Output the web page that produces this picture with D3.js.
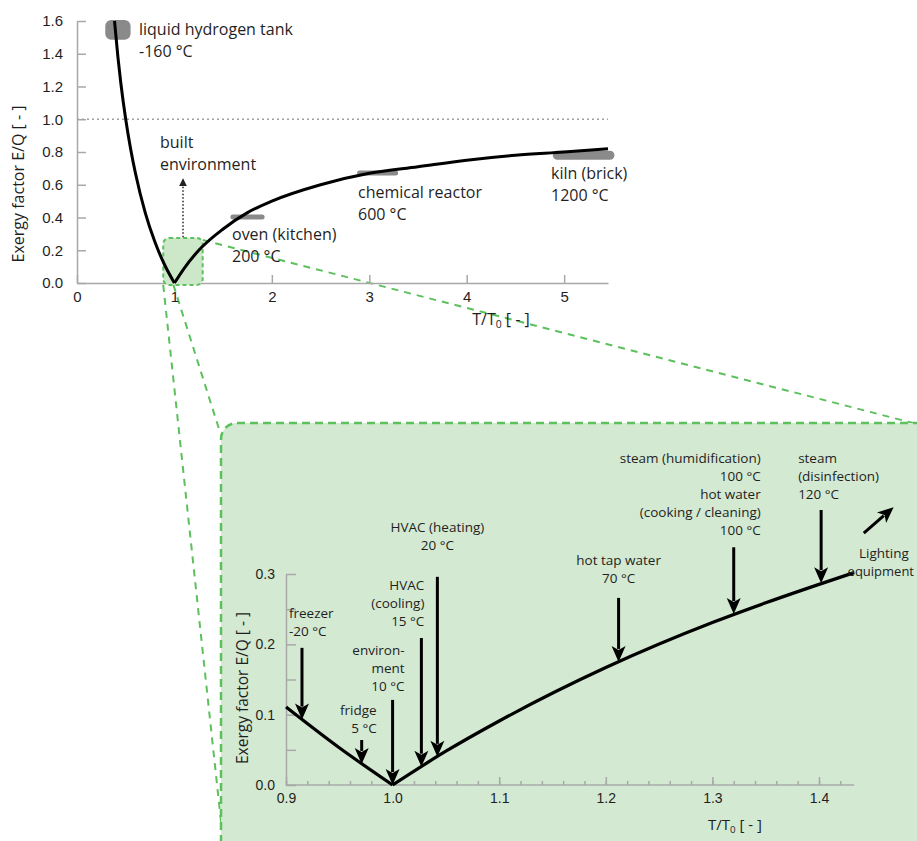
<!DOCTYPE html>
<html>
<head>
<meta charset="utf-8">
<script src="https://cdn.jsdelivr.net/npm/d3@7"></script>
<style>
  body { margin: 0; background: #fff; }
  svg { display: block; font-family: "Open Sans", sans-serif; }
  .lbl { fill: #1f1f1f; }
  .axis path, .axis line { stroke: #a8a8a8; stroke-width: 1.5; }
  .axis text { fill: #1f1f1f; }
</style>
</head>
<body>
<svg width="917" height="841"></svg>
<script>
// main curve (T/T0, E/Q)
const leftBranch = [[0.385, 1.6], [0.42, 1.38], [0.45, 1.22], [0.5, 1.0], [0.55, 0.82], [0.6, 0.67], [0.7, 0.43], [0.8, 0.25], [0.9, 0.11], [1.0, 0.0]];
const rightBranch = [[1.0, 0.0], [1.1, 0.09], [1.25, 0.2], [1.5, 0.33], [1.75, 0.43], [2, 0.5], [2.5, 0.6], [3, 0.67], [3.5, 0.71], [4, 0.75], [4.5, 0.78], [5, 0.8], [5.45, 0.82]];
const topXTicks = [0, 1, 2, 3, 4, 5];
const topYTicks = [0, 0.2, 0.4, 0.6, 0.8, 1.0, 1.2, 1.4, 1.6];

// grey application markers: [from T/T0, to T/T0], E/Q
const appNames = [["liquid hydrogen tank", "-160 °C"], ["oven (kitchen)", "200 °C"], ["chemical reactor", "600 °C"], ["kiln (brick)", "1200 °C"]];
const appRange = [[0.29, 0.55], [1.6, 1.9], [2.9, 3.27], [4.93, 5.47]];
const appValue = [1.54, 0.403, 0.672, 0.78];

// zoomed region
const insetLeft = [[0.9, 0.111], [0.95, 0.053], [1.0, 0.0]];
const insetRight = [[1.0, 0.0], [1.05, 0.048], [1.1, 0.091], [1.2, 0.167], [1.3, 0.231], [1.35, 0.259], [1.433, 0.302]];
const insetXTicks = [0.9, 1.0, 1.1, 1.2, 1.3, 1.4];
const insetYTicks = [0, 0.1, 0.2, 0.3];

const useNames = [
  ["freezer", "-20 °C"],
  ["fridge", "5 °C"],
  ["environ-", "ment", "10 °C"],
  ["HVAC", "(cooling)", "15 °C"],
  ["HVAC (heating)", "20 °C"],
  ["hot tap water", "70 °C"],
  ["steam (humidification)", "100 °C", "hot water", "(cooking / cleaning)", "100 °C"],
  ["steam", "(disinfection)", "120 °C"]
];
const useX = [0.915, 0.971, 1.0, 1.027, 1.042, 1.212, 1.32, 1.402];
const useTop = [0.195, 0.064, 0.121, 0.209, 0.296, 0.266, 0.338, 0.391];
const useEnd = [0.093, 0.03, 0.0, 0.026, 0.04, 0.175, 0.243, 0.287];

const svg = d3.select("svg");

// ---------- top chart ----------
const x = d3.scaleLinear().domain([0, 5.45]).range([77, 608]);
const y = d3.scaleLinear().domain([0, 1.6]).range([283, 21]);

const green = "#5cc05c";

// zoom box on the top chart
const box = { x0: 0.885, x1: 1.29, y0: -0.012, y1: 0.275 };
const bx0 = x(box.x0), bx1 = x(box.x1), by0 = y(box.y1), by1 = y(box.y0);

// inset frame
const inset = { left: 221, top: 423, bottom: 840 };

// projection lines
const proj = [
  [[bx0, by1], [inset.left + 2, inset.bottom]],
  [[x(0.99), by1], [inset.left - 2, inset.top + 6]],
  [[bx1, by0 + 2], [917, inset.top + 1]]
];
svg.selectAll(".proj").data(proj).join("line")
  .attr("class", "proj")
  .attr("x1", d => d[0][0]).attr("y1", d => d[0][1])
  .attr("x2", d => d[1][0]).attr("y2", d => d[1][1])
  .attr("stroke", green).attr("stroke-width", 2)
  .attr("stroke-dasharray", "7,6");

const topAxisY = svg.append("g").attr("class", "axis")
  .attr("transform", `translate(${x(0)},0)`)
  .call(d3.axisLeft(y).tickValues(topYTicks).tickFormat(d3.format(".1f")).tickSizeInner(-9).tickSizeOuter(0).tickPadding(14));
topAxisY.selectAll("text").style("font-size", "15px");

const topAxisX = svg.append("g").attr("class", "axis")
  .attr("transform", `translate(0,${y(0)})`)
  .call(d3.axisBottom(x).tickValues(topXTicks).tickFormat(d3.format("d")).tickSizeInner(-8).tickSizeOuter(0).tickPadding(8));
topAxisX.selectAll("text").style("font-size", "15px");

// E/Q = 1 reference
svg.append("line")
  .attr("x1", x(0)).attr("x2", x(5.45))
  .attr("y1", y(1)).attr("y2", y(1))
  .attr("stroke", "#a0a0a0").attr("stroke-width", 1.4)
  .attr("stroke-dasharray", "2,3");

// zoom box
svg.append("rect")
  .attr("x", bx0).attr("y", by0)
  .attr("width", bx1 - bx0).attr("height", by1 - by0)
  .attr("rx", 6)
  .attr("fill", "#cde8c9")
  .attr("stroke", green).attr("stroke-width", 2)
  .attr("stroke-dasharray", "4,3");

// grey markers
svg.append("rect")
  .attr("x", x(appRange[0][0])).attr("y", y(1.6) - 1)
  .attr("width", x(appRange[0][1]) - x(appRange[0][0]))
  .attr("height", y(appValue[0]) - y(1.6) + 10)
  .attr("rx", 6).attr("fill", "#8a8a8a");
const markW = [0, 5, 5, 9];
svg.selectAll(".mark").data(appRange.slice(1)).join("line")
  .attr("class", "mark")
  .attr("x1", d => x(d[0])).attr("x2", d => x(d[1]))
  .attr("y1", (d, i) => y(appValue[i + 1])).attr("y2", (d, i) => y(appValue[i + 1]))
  .attr("stroke", "#8a8a8a").attr("stroke-linecap", "round")
  .attr("stroke-width", (d, i) => markW[i + 1]);

const line = d3.line().x(d => x(d[0])).y(d => y(d[1])).curve(d3.curveMonotoneX);
svg.selectAll(".curve").data([leftBranch, rightBranch]).join("path")
  .attr("class", "curve")
  .attr("d", line)
  .attr("fill", "none").attr("stroke", "#000").attr("stroke-width", 3);

// built environment arrow
svg.append("defs").append("marker")
  .attr("id", "smallHead")
  .attr("viewBox", "0 0 10 10").attr("refX", 9).attr("refY", 5)
  .attr("markerWidth", 8).attr("markerHeight", 8)
  .attr("markerUnits", "userSpaceOnUse")
  .attr("orient", "auto")
  .append("path").attr("d", "M0,0L10,5L0,10z").attr("fill", "#222");
svg.append("line")
  .attr("x1", x(1.088)).attr("x2", x(1.088))
  .attr("y1", y(0.28)).attr("y2", y(0.635))
  .attr("stroke", "#222").attr("stroke-width", 1.5)
  .attr("stroke-dasharray", "1.5,2")
  .attr("marker-end", "url(#smallHead)");

function textBlock(g, px, py, lines, anchor, lh, size) {
  const t = g.append("text")
    .attr("class", "lbl")
    .attr("text-anchor", anchor)
    .style("font-size", size + "px");
  lines.forEach((s, i) => {
    t.append("tspan").attr("x", px).attr("y", py + i * lh).attr("dy", "0.35em").text(s);
  });
  return t;
}

// labels of the top chart
const topLbl = [
  { px: 139, py: 29 },
  { px: 232, py: 234 },
  { px: 358, py: 192 },
  { px: 551, py: 173 }
];
appNames.forEach((n, i) => textBlock(svg, topLbl[i].px, topLbl[i].py, n, "start", 22, 16));
textBlock(svg, 160, 142, ["built", "environment"], "start", 22, 16);

svg.append("text").attr("class", "lbl")
  .attr("transform", "translate(18,184) rotate(-90)")
  .attr("text-anchor", "middle").attr("dy", "0.35em")
  .style("font-size", "16px")
  .text("Exergy factor E/Q [ - ]");

function ratioLabel(px, py, size) {
  const t = svg.append("text").attr("class", "lbl")
    .attr("x", px).attr("y", py).attr("text-anchor", "middle")
    .style("font-size", size + "px");
  t.append("tspan").text("T/T");
  t.append("tspan").attr("dy", 3).style("font-size", (size * 0.65) + "px").text("0");
  t.append("tspan").attr("dy", -3).text(" [ - ]");
}
ratioLabel(501, 325, 16);

// ---------- inset ----------
svg.append("rect")
  .attr("x", inset.left).attr("y", inset.top)
  .attr("width", 760).attr("height", inset.bottom - inset.top + 20)
  .attr("rx", 16)
  .attr("fill", "#d3e9d1")
  .attr("stroke", green).attr("stroke-width", 2.5)
  .attr("stroke-dasharray", "8,5");

const ix = d3.scaleLinear().domain([0.9, 1.4]).range([286, 819]);
const iy = d3.scaleLinear().domain([0, 0.3]).range([785, 574]);

svg.append("g").attr("class", "axis")
  .attr("transform", `translate(0,${iy(0)})`)
  .call(d3.axisBottom(ix).tickValues(d3.range(0, 27).map(i => 0.9 + i * 0.02)).tickFormat("").tickSizeInner(-4).tickSizeOuter(0))
  .select(".domain").attr("d", `M${ix(0.9)},0H${ix(1.433)}`);

const iAxX = svg.append("g").attr("class", "axis")
  .attr("transform", `translate(0,${iy(0)})`)
  .call(d3.axisBottom(ix).tickValues(insetXTicks).tickFormat(d3.format(".1f")).tickSizeInner(-8).tickSizeOuter(0).tickPadding(8));
iAxX.select(".domain").remove();
iAxX.selectAll("text").style("font-size", "14px");

const iAxY = svg.append("g").attr("class", "axis")
  .attr("transform", `translate(${ix(0.9)},0)`)
  .call(d3.axisLeft(iy).tickValues([0, 0.05, 0.1, 0.15, 0.2, 0.25, 0.3])
    .tickFormat(d => insetYTicks.some(v => Math.abs(v - d) < 1e-9) ? d3.format(".1f")(d) : "")
    .tickSizeInner(-10).tickSizeOuter(0).tickPadding(11));
iAxY.selectAll("text").style("font-size", "14px");

const iline = d3.line().x(d => ix(d[0])).y(d => iy(d[1])).curve(d3.curveMonotoneX);
svg.selectAll(".icurve").data([insetLeft, insetRight]).join("path")
  .attr("class", "icurve")
  .attr("d", iline)
  .attr("fill", "none").attr("stroke", "#000").attr("stroke-width", 3.2)
  .attr("stroke-linejoin", "miter");

// down arrows
function arrow(x1, y1, x2, y2) {
  const a = Math.atan2(y2 - y1, x2 - x1);
  const hl = 16, hw = 7;
  const bx = x2 - hl * Math.cos(a), by = y2 - hl * Math.sin(a);
  svg.append("line")
    .attr("x1", x1).attr("y1", y1).attr("x2", bx + 3 * Math.cos(a)).attr("y2", by + 3 * Math.sin(a))
    .attr("stroke", "#000").attr("stroke-width", 3);
  const px = -Math.sin(a), py = Math.cos(a);
  svg.append("path")
    .attr("d", `M${x2},${y2}L${bx + hw * px},${by + hw * py}L${bx + 4 * Math.cos(a)},${by + 4 * Math.sin(a)}L${bx - hw * px},${by - hw * py}Z`)
    .attr("fill", "#000");
}
useX.forEach((v, i) => arrow(ix(v), iy(useTop[i]), ix(v), iy(useEnd[i])));

const useLayout = [
  { anchor: "start", dx: -13, gap: 17 },
  { anchor: "end", dx: 15, gap: 12 },
  { anchor: "end", dx: 12, gap: 14 },
  { anchor: "end", dx: 3, gap: 17 },
  { anchor: "middle", dx: 0, gap: 32 },
  { anchor: "middle", dx: 0, gap: 20 },
  { anchor: "end", dx: 27, gap: 17 },
  { anchor: "start", dx: -23, gap: 16 }
];
useNames.forEach((n, i) => {
  const L = useLayout[i];
  const lh = 18;
  const py = iy(useTop[i]) - L.gap - (n.length - 1) * lh;
  textBlock(svg, ix(useX[i]) + L.dx, py, n, L.anchor, lh, 13.5);
});

// lighting equipment
arrow(ix(1.442), iy(0.358), ix(1.47), iy(0.395));
textBlock(svg, ix(1.4375), iy(0.33), ["Lighting"], "start", 19, 13.5);
textBlock(svg, 914, iy(0.303), ["equipment"], "end", 19, 13);

svg.append("text").attr("class", "lbl")
  .attr("transform", "translate(243,688) rotate(-90)")
  .attr("text-anchor", "middle").attr("dy", "0.35em")
  .style("font-size", "15.5px")
  .text("Exergy factor E/Q [ - ]");
ratioLabel(735, 830, 15);
</script>
</body>
</html>
